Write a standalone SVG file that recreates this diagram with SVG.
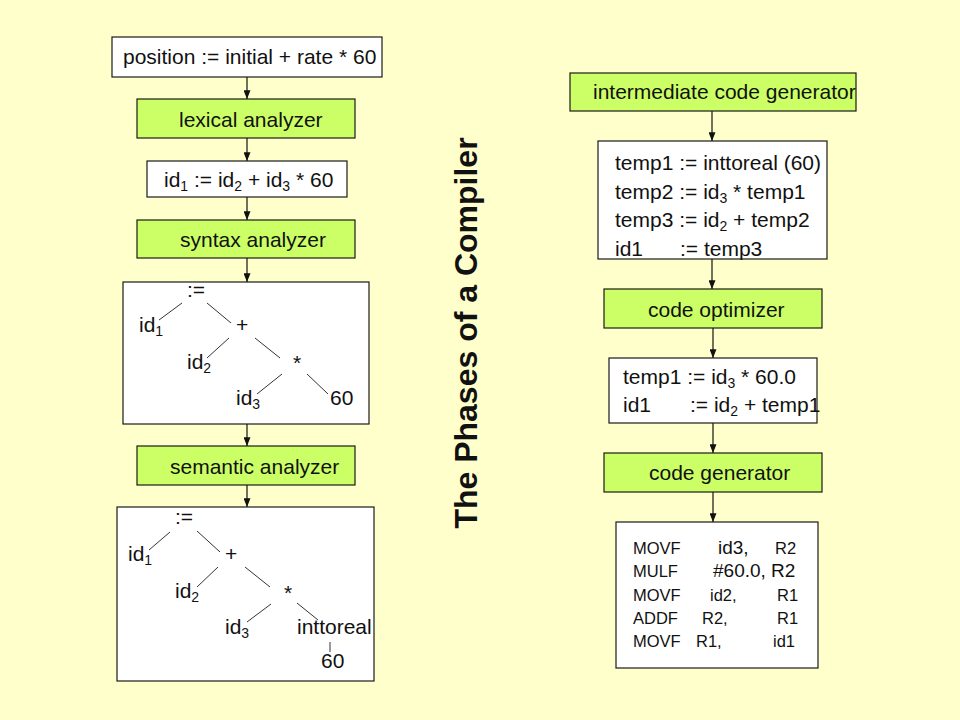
<svg xmlns="http://www.w3.org/2000/svg" width="960" height="720" viewBox="0 0 960 720">
<defs>
<marker id="ah" viewBox="0 0 10 8" refX="10" refY="4" markerWidth="9" markerHeight="7" markerUnits="userSpaceOnUse" orient="auto">
<path d="M0,0 L10,4 L0,8 z" fill="#111"/>
</marker>
<style>
.box{fill:#ffffff;stroke:#1a1a1a;stroke-width:1.2}
.phase{fill:#ccff66;stroke:#1a1a1a;stroke-width:1.2}
.t{font-family:"Liberation Sans",Arial,sans-serif;font-size:21px;fill:#111}
.m{font-family:"Liberation Sans",Arial,sans-serif;font-size:16.5px;fill:#111}
.mb{font-size:19px}
.sub{font-size:14px}
.tl{stroke:#333;stroke-width:1;fill:none}
.conn{stroke:#111;stroke-width:1.2;fill:none;marker-end:url(#ah)}
.title{font-family:"Liberation Sans",Arial,sans-serif;font-size:32px;font-weight:bold;fill:#111}
</style>
</defs>
<rect x="0" y="0" width="960" height="720" fill="#ffffcc"/>

<g id="connectors">
<line class="conn" x1="247" y1="77" x2="247" y2="99"/>
<line class="conn" x1="247" y1="138" x2="247" y2="161"/>
<line class="conn" x1="247" y1="197" x2="247" y2="220"/>
<line class="conn" x1="247" y1="258" x2="247" y2="282"/>
<line class="conn" x1="247" y1="424" x2="247" y2="446"/>
<line class="conn" x1="247" y1="485" x2="247" y2="507"/>
<line class="conn" x1="712" y1="111" x2="712" y2="141"/>
<line class="conn" x1="712" y1="259" x2="712" y2="289"/>
<line class="conn" x1="713" y1="328" x2="713" y2="358"/>
<line class="conn" x1="713" y1="423" x2="713" y2="453"/>
<line class="conn" x1="713" y1="492" x2="713" y2="522"/>
</g>

<g id="source">
<rect class="box" x="112" y="37" width="270" height="40"/>
<text class="t" x="123" y="64">position := initial + rate * 60</text>
</g>

<g id="lexical">
<rect class="phase" x="137" y="99" width="218" height="39"/>
<text class="t" x="179" y="127">lexical analyzer</text>
</g>

<g id="tokens">
<rect class="box" x="147" y="161" width="200" height="36"/>
<text class="t" x="164" y="187">id<tspan class="sub" dy="4">1</tspan><tspan dy="-4"> := id</tspan><tspan class="sub" dy="4">2</tspan><tspan dy="-4"> + id</tspan><tspan class="sub" dy="4">3</tspan><tspan dy="-4"> * 60</tspan></text>
</g>

<g id="syntax">
<rect class="phase" x="137" y="220" width="218" height="38"/>
<text class="t" x="180" y="247">syntax analyzer</text>
</g>

<g id="tree1">
<rect class="box" x="123" y="282" width="246" height="142"/>
<text class="t" x="187" y="297">:=</text>
<text class="t" x="139" y="332">id<tspan class="sub" dy="4">1</tspan></text>
<text class="t" x="236" y="332">+</text>
<text class="t" x="187" y="369">id<tspan class="sub" dy="4">2</tspan></text>
<text class="t" x="293" y="370">*</text>
<text class="t" x="236" y="405">id<tspan class="sub" dy="4">3</tspan></text>
<text class="t" x="330" y="405">60</text>
<line class="tl" x1="182" y1="303" x2="159" y2="320"/>
<line class="tl" x1="207" y1="303" x2="231" y2="323"/>
<line class="tl" x1="229" y1="338" x2="207" y2="358"/>
<line class="tl" x1="255" y1="338" x2="280" y2="358"/>
<line class="tl" x1="282" y1="374" x2="257" y2="394"/>
<line class="tl" x1="307" y1="374" x2="328" y2="394"/>
</g>

<g id="semantic">
<rect class="phase" x="137" y="446" width="218" height="39"/>
<text class="t" x="170" y="474">semantic analyzer</text>
</g>

<g id="tree2">
<rect class="box" x="117" y="507" width="257" height="174"/>
<text class="t" x="175" y="524">:=</text>
<text class="t" x="128" y="561">id<tspan class="sub" dy="4">1</tspan></text>
<text class="t" x="225" y="561">+</text>
<text class="t" x="175" y="598">id<tspan class="sub" dy="4">2</tspan></text>
<text class="t" x="284" y="600">*</text>
<text class="t" x="225" y="634">id<tspan class="sub" dy="4">3</tspan></text>
<text class="t" x="297" y="634">inttoreal</text>
<text class="t" x="321" y="668">60</text>
<line class="tl" x1="170" y1="532" x2="149" y2="550"/>
<line class="tl" x1="197" y1="531" x2="220" y2="552"/>
<line class="tl" x1="218" y1="567" x2="197" y2="587"/>
<line class="tl" x1="245" y1="567" x2="270" y2="587"/>
<line class="tl" x1="271" y1="604" x2="247" y2="622"/>
<line class="tl" x1="297" y1="603" x2="318" y2="620"/>
<line class="tl" x1="330" y1="642" x2="330" y2="652"/>
</g>

<g id="title">
<text class="title" transform="translate(477,333) rotate(-90)" text-anchor="middle">The Phases of a Compiler</text>
</g>

<g id="icg">
<rect class="phase" x="570" y="73" width="286" height="38"/>
<text class="t" x="593" y="99">intermediate code generator</text>
</g>

<g id="tac">
<rect class="box" x="598" y="141" width="229" height="118"/>
<text class="t" x="615" y="170">temp1 := inttoreal (60)</text>
<text class="t" x="615" y="199">temp2 := id<tspan class="sub" dy="4">3</tspan><tspan dy="-4"> * temp1</tspan></text>
<text class="t" x="615" y="227">temp3 := id<tspan class="sub" dy="4">2</tspan><tspan dy="-4"> + temp2</tspan></text>
<text class="t" x="615" y="256">id1</text>
<text class="t" x="680" y="256">:= temp3</text>
</g>

<g id="optimizer">
<rect class="phase" x="604" y="289" width="218" height="39"/>
<text class="t" x="648" y="317">code optimizer</text>
</g>

<g id="optcode">
<rect class="box" x="609" y="358" width="208" height="65"/>
<text class="t" x="623" y="384">temp1 := id<tspan class="sub" dy="4">3</tspan><tspan dy="-4"> * 60.0</tspan></text>
<text class="t" x="623" y="412">id1</text>
<text class="t" x="690" y="412">:= id<tspan class="sub" dy="4">2</tspan><tspan dy="-4"> + temp1</tspan></text>
</g>

<g id="codegen">
<rect class="phase" x="604" y="453" width="218" height="39"/>
<text class="t" x="649" y="480">code generator</text>
</g>

<g id="target">
<rect class="box" x="616" y="522" width="202" height="146"/>
<text class="m" x="633" y="554">MOVF</text><text class="m mb" x="718" y="554">id3,</text><text class="m" x="775" y="554">R2</text>
<text class="m" x="633" y="577">MULF</text><text class="m mb" x="713" y="577">#60.0, R2</text>
<text class="m" x="633" y="601">MOVF</text><text class="m" x="710" y="601">id2,</text><text class="m" x="777" y="601">R1</text>
<text class="m" x="633" y="624">ADDF</text><text class="m" x="702" y="624">R2,</text><text class="m" x="777" y="624">R1</text>
<text class="m" x="633" y="647">MOVF</text><text class="m" x="696" y="647">R1,</text><text class="m" x="773" y="647">id1</text>
</g>
</svg>
